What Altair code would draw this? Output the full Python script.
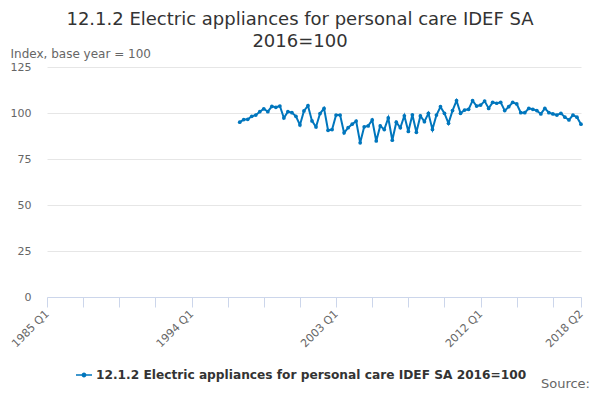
import altair as alt
import pandas as pd

# quarterly index, first point 1997 Q1, last point 2018 Q2
first_quarter = "1997 Q1"
values = [
    95.0, 96.4, 96.6, 98.2, 98.9, 100.7, 102.3, 100.7, 103.6, 103.1,
    103.8, 97.3, 100.7, 100.2, 98.2, 93.5, 101.1, 104.0, 95.7, 92.4,
    99.7, 102.5, 90.6, 91.0, 98.9, 98.9, 89.2, 92.0, 93.9, 95.6,
    83.8, 92.5, 93.0, 96.2, 84.8, 93.0, 91.0, 97.3, 85.2, 95.0,
    92.0, 98.5, 90.0, 99.0, 89.5, 98.4, 95.3, 99.8, 91.1, 98.9,
    103.4, 99.8, 94.4, 101.3, 106.7, 99.8, 101.6, 102.0, 106.7, 103.8,
    104.3, 106.5, 102.5, 105.8, 105.3, 105.8, 101.3, 103.4, 105.8, 104.9,
    100.2, 100.2, 102.5, 102.0, 101.3, 99.5, 102.5, 100.2, 99.5, 98.9,
    99.8, 97.7, 96.2, 98.9, 97.7, 93.9,
]
x_ticks = [0, 9, 18, 27, 36, 45, 54, 63, 72, 81, 90, 99, 108, 117, 126, 133]
x_labels = [0, 36, 72, 108, 133]
y_ticks = [0, 25, 50, 75, 100, 125]

series_name = "12.1.2 Electric appliances for personal care IDEF SA 2016=100"
line_color = "#0076bd"

# quarters counted from 1985 Q1
start = (int(first_quarter[:4]) - 1985) * 4 + int(first_quarter[-1]) - 1
data = pd.DataFrame({
    "q": list(range(start, start + len(values))),
    "value": values,
    "series": series_name,
})

label_expr = (
    "indexof(" + str(x_labels) + ", datum.value) >= 0 ? "
    "(1985 + floor(datum.value / 4)) + ' Q' + (datum.value % 4 + 1) : ''"
)

legend_symbol = (
    "M-1,-0.1H1V0.1H-1Z "
    "M-0.3,0A0.3,0.3,0,1,1,0.3,0A0.3,0.3,0,1,1,-0.3,0Z"
)

line = alt.Chart(data).mark_line(
    strokeWidth=2,
    point=alt.OverlayMarkDef(filled=True, size=14, color=line_color),
).encode(
    x=alt.X("q:Q", title=None,
            scale=alt.Scale(domain=[0, 133], nice=False, zero=False),
            axis=alt.Axis(values=x_ticks, labelExpr=label_expr, labelAngle=-45,
                          labelAlign="right", labelBaseline="middle",
                          labelOverlap=False, labelFontSize=11, labelColor="#666666",
                          labelPadding=5, grid=False, domainColor="#ccd6eb",
                          tickColor="#ccd6eb", tickSize=10)),
    y=alt.Y("value:Q", title="Index, base year = 100",
            scale=alt.Scale(domain=[0, 125], nice=False),
            axis=alt.Axis(values=y_ticks, domain=False, ticks=False,
                          labelPadding=16, labelFontSize=11, labelColor="#666666",
                          gridColor="#e6e6e6", titleAngle=0, titleAlign="left",
                          titleBaseline="alphabetic", titleX=-37, titleY=-10,
                          titleFontSize=12, titleFontWeight="normal",
                          titleColor="#666666")),
    color=alt.Color("series:N", scale=alt.Scale(range=[line_color]),
                    legend=alt.Legend(title=None, orient="none", legendX=29,
                                      legendY=300, direction="horizontal",
                                      symbolType=legend_symbol, symbolSize=256,
                                      symbolFillColor=line_color, symbolStrokeWidth=0,
                                      labelFont="DejaVu Sans", labelFontWeight="bold",
                                      labelFontSize=12.2, labelColor="#333333",
                                      labelOffset=4, labelLimit=600, padding=0)),
)

source = alt.Chart(pd.DataFrame({"t": ["Source:"]})).mark_text(
    align="right", baseline="alphabetic", fontSize=13, color="#666666",
    font="DejaVu Sans",
).encode(text="t:N", x=alt.value(543), y=alt.value(321))

chart = (line + source).properties(
    width=534,
    height=230,
    autosize=alt.AutoSizeParams(type="none"),
    padding={"left": 39, "top": 59, "right": 11, "bottom": 94},
    title=alt.TitleParams(
        ["12.1.2 Electric appliances for personal care IDEF SA", "2016=100"],
        anchor="middle", dx=-14, fontSize=18, fontWeight="normal",
        color="#333333", font="DejaVu Sans", lineHeight=22, offset=-4,
    ),
).configure(
    font="DejaVu Sans",
).configure_view(
    stroke=None,
)

chart.save("out.html", embed_options={"renderer": "svg", "actions": False})
